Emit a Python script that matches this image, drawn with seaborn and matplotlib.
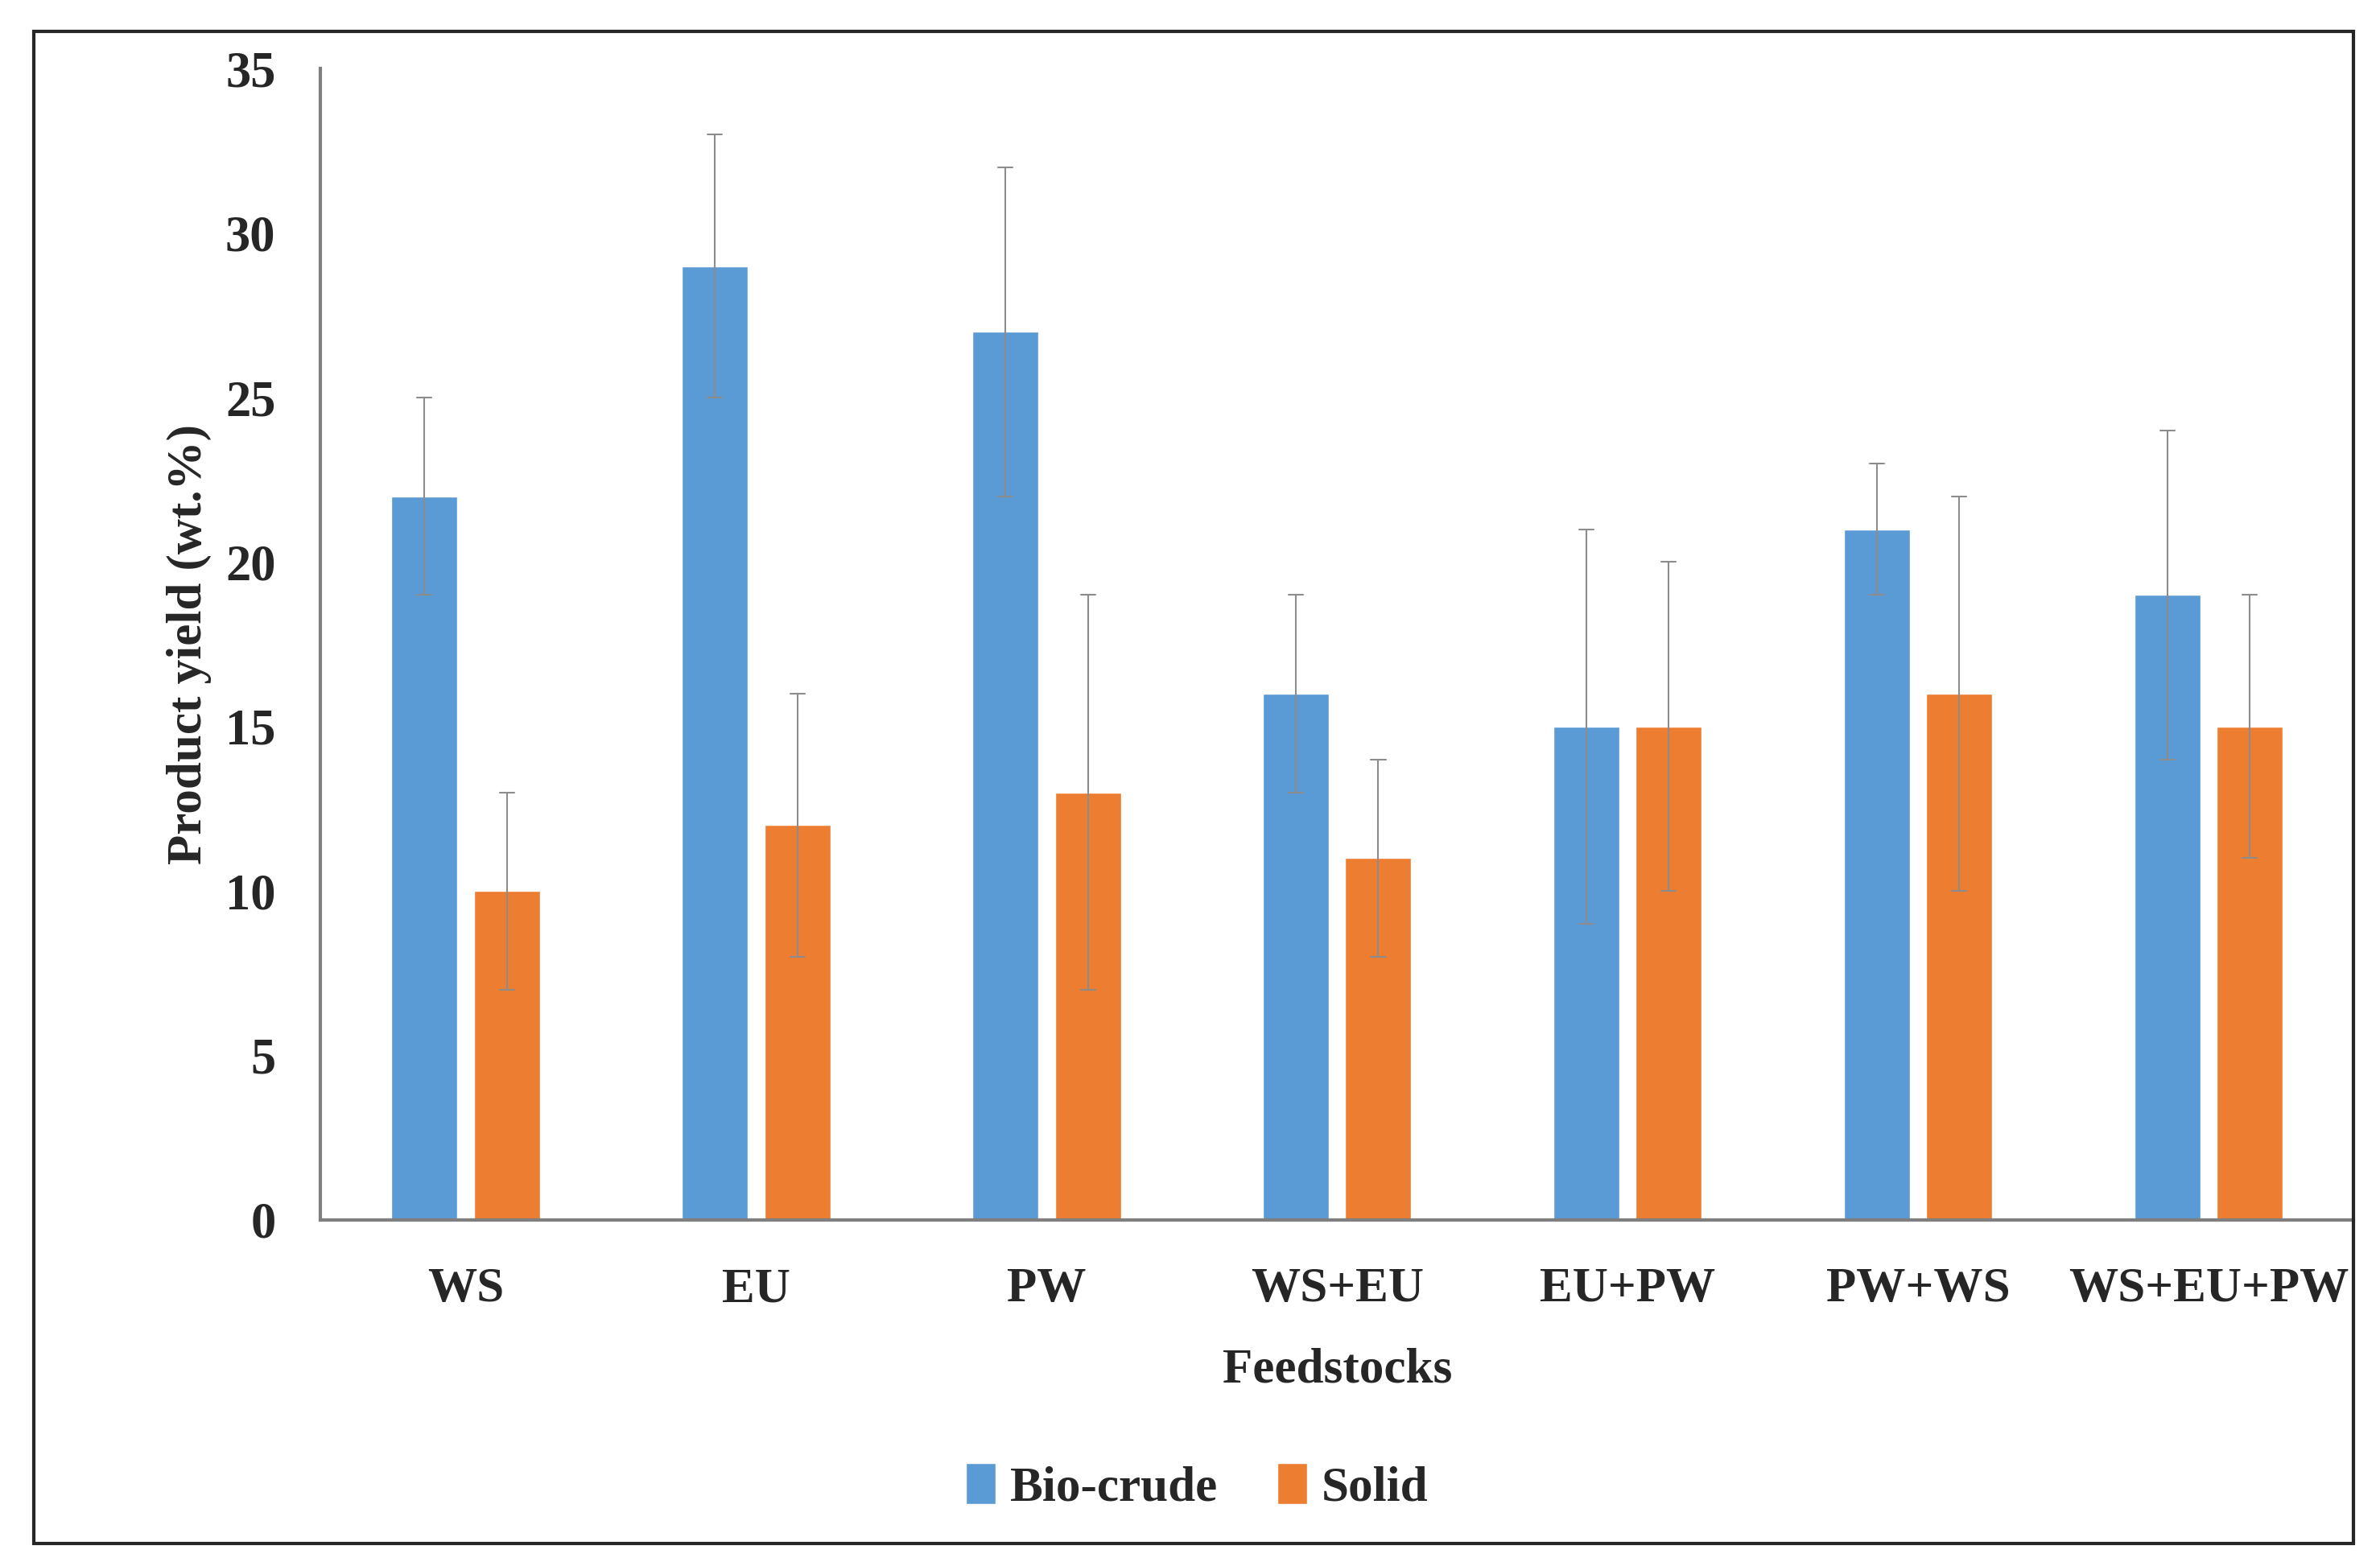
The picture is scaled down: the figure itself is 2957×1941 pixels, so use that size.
import pandas as pd
import seaborn as sns
import matplotlib.pyplot as plt
from matplotlib.patches import Rectangle

# --- data ---
feedstocks = ['WS', 'EU', 'PW', 'WS+EU', 'EU+PW', 'PW+WS', 'WS+EU+PW']
biocrude = [22, 29, 27, 16, 15, 21, 19]
biocrude_err = [3, 4, 5, 3, 6, 2, 5]
solid = [10, 12, 13, 11, 15, 16, 15]
solid_err = [3, 4, 6, 3, 5, 6, 4]
yticks = [0, 5, 10, 15, 20, 25, 30, 35]

# each bar gets its low/high end; mean = value, errorbar = min..max
rows = []
for name, vals, errs in [('Bio-crude', biocrude, biocrude_err), ('Solid', solid, solid_err)]:
    for f, v, e in zip(feedstocks, vals, errs):
        rows.append({'Feedstock': f, 'Product': name, 'Yield': v - e})
        rows.append({'Feedstock': f, 'Product': name, 'Yield': v + e})
df = pd.DataFrame(rows)

sns.set_theme(style='white')
plt.rcParams['font.family'] = ['Liberation Serif', 'DejaVu Serif']
plt.rcParams['font.weight'] = 'bold'

fig = plt.figure(figsize=(29.57, 19.41), dpi=100)
ax = fig.add_axes([0.1346, 0.219, 0.8544, 0.737])

sns.barplot(data=df, x='Feedstock', y='Yield', hue='Product', order=feedstocks,
            palette=['#5B9BD5', '#ED7D31'], width=0.568, gap=0.2,
            errorbar=lambda x: (x.min(), x.max()),
            err_kws={'color': '#8c8c8c', 'linewidth': 1.5}, capsize=0.1,
            saturation=1, ax=ax)

ax.set_xlim(-0.5, 6.5)
ax.set_ylim(0, 35)
ax.set_yticks(yticks)
ax.tick_params(axis='y', length=15, width=2.5, color='#404040', pad=25, labelsize=45)
ax.tick_params(axis='x', length=0, pad=42, labelsize=44)
for lab in ax.get_xticklabels() + ax.get_yticklabels():
    lab.set_fontweight('bold')

for s in ['top', 'right']:
    ax.spines[s].set_visible(False)
ax.spines['left'].set_color('#7f7f7f')
ax.spines['left'].set_linewidth(3)
ax.spines['bottom'].set_color('#7f7f7f')
ax.spines['bottom'].set_linewidth(3)

ax.set_xlabel('Feedstocks', fontsize=44, fontweight='bold', labelpad=32)
ax.set_ylabel('Product yield (wt.%)', fontsize=44, fontweight='bold', labelpad=12)

handles, labels = ax.get_legend_handles_labels()
ax.legend_.remove()
fig.legend(handles, labels, loc='center', bbox_to_anchor=(0.503, 0.048), ncol=2,
           frameon=False, handlelength=0.6, handleheight=0.9,
           handletextpad=0.3, columnspacing=1.2, prop={'weight': 'bold', 'size': 44})

# outer frame around the whole chart
fig.patches.append(Rectangle((0.0141, 0.0117), 0.9749, 0.9683, transform=fig.transFigure,
                             fill=False, edgecolor='#262626', linewidth=3))

fig.savefig('out.png', dpi=100)
